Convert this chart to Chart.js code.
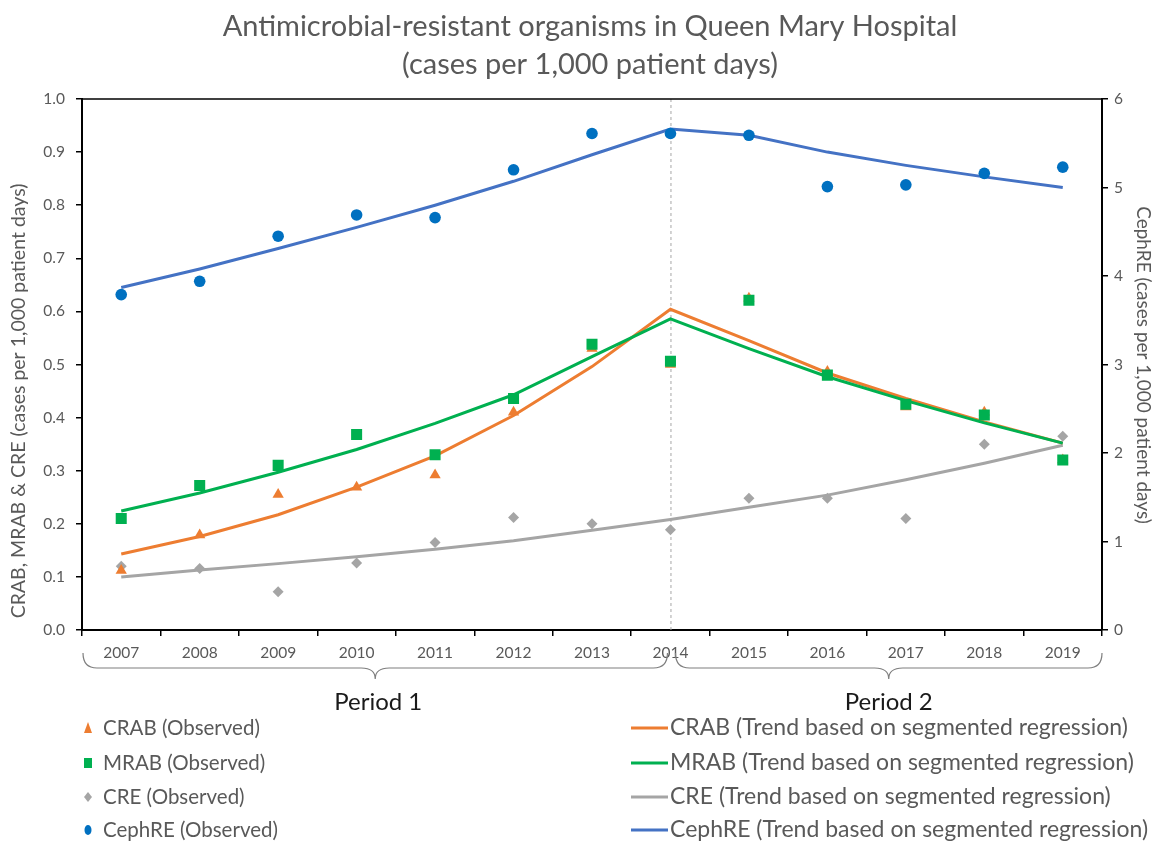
<!DOCTYPE html>
<html>
<head>
<meta charset="utf-8">
<script src="https://cdn.jsdelivr.net/npm/chart.js@4/dist/chart.umd.min.js"></script>
<style>
  html, body { margin: 0; padding: 0; background: #fff; }
  #wrap { width: 1156px; height: 841px; position: relative; }
</style>
</head>
<body>
<div id="wrap"><canvas id="c"></canvas></div>
<script>
// ---- Data ----
const years = ['2007','2008','2009','2010','2011','2012','2013','2014','2015','2016','2017','2018','2019'];
const breakYear = '2014';
const crabObs   = [0.112, 0.179, 0.255, 0.269, 0.292, 0.410, 0.530, 0.500, 0.625, 0.487, 0.420, 0.410, 0.320];
const mrabObs   = [0.210, 0.272, 0.310, 0.368, 0.330, 0.436, 0.538, 0.506, 0.621, 0.480, 0.425, 0.405, 0.320];
const creObs    = [0.120, 0.116, 0.072, 0.126, 0.165, 0.212, 0.200, 0.189, 0.248, 0.248, 0.210, 0.350, 0.365];
const cephObs   = [3.79, 3.94, 4.45, 4.69, 4.66, 5.20, 5.61, 5.61, 5.59, 5.01, 5.03, 5.16, 5.23];
const crabTrend = [0.143, 0.176, 0.217, 0.269, 0.328, 0.404, 0.496, 0.604, 0.545, 0.484, 0.436, 0.392, 0.352];
const mrabTrend = [0.224, 0.258, 0.297, 0.340, 0.389, 0.443, 0.515, 0.586, 0.530, 0.477, 0.432, 0.390, 0.352];
const creTrend  = [0.100, 0.113, 0.125, 0.138, 0.152, 0.168, 0.188, 0.208, 0.231, 0.254, 0.283, 0.314, 0.348];
const cephTrend = [3.87, 4.08, 4.31, 4.55, 4.80, 5.07, 5.37, 5.66, 5.59, 5.40, 5.25, 5.12, 5.00];
const periodLabels = ['Period 1', 'Period 2'];
const titleLines = ['Antimicrobial-resistant organisms in Queen Mary Hospital', '(cases per 1,000 patient days)'];
const leftTitle = 'CRAB, MRAB & CRE (cases per 1,000 patient days)';
const rightTitle = 'CephRE (cases per 1,000 patient days)';

const FONT = 'Lato, "Open Sans", sans-serif';
const GREY_TXT = '#595959';
const C_ORANGE = '#ED7D31', C_GREEN = '#00B050', C_GREY = '#A5A5A5', C_BLUE_LINE = '#4472C4', C_BLUE_DOT = '#0070C0';

function obs(label, data, color, style, radius, axis) {
  return { label, data, yAxisID: axis, showLine: false, pointStyle: style, pointRadius: radius,
    pointHoverRadius: radius, backgroundColor: color, borderColor: color, pointBorderWidth: 0 };
}
function trend(label, data, color, axis) {
  return { label, data, yAxisID: axis, borderColor: color, backgroundColor: color, borderWidth: 3,
    pointRadius: 0, tension: 0, fill: false };
}
// first dataset is drawn on top
const datasets = [
  obs('MRAB (Observed)', mrabObs, C_GREEN, 'rect', 7.8, 'y'),
  obs('CRAB (Observed)', crabObs, C_ORANGE, 'triangle', 6.5, 'y'),
  obs('CRE (Observed)', creObs, C_GREY, 'rectRot', 5.5, 'y'),
  obs('CephRE (Observed)', cephObs, C_BLUE_DOT, 'circle', 5.8, 'y2'),
  trend('MRAB (Trend based on segmented regression)', mrabTrend, C_GREEN, 'y'),
  trend('CRAB (Trend based on segmented regression)', crabTrend, C_ORANGE, 'y'),
  trend('CRE (Trend based on segmented regression)', creTrend, C_GREY, 'y'),
  trend('CephRE (Trend based on segmented regression)', cephTrend, C_BLUE_LINE, 'y2')
];
const legendOrder = [
  ['CRAB (Observed)', 'CRAB (Trend based on segmented regression)'],
  ['MRAB (Observed)', 'MRAB (Trend based on segmented regression)'],
  ['CRE (Observed)', 'CRE (Trend based on segmented regression)'],
  ['CephRE (Observed)', 'CephRE (Trend based on segmented regression)']
];

function drawMarker(ctx, style, x, y, color) {
  ctx.save();
  ctx.fillStyle = color;
  ctx.beginPath();
  if (style === 'triangle') {
    ctx.moveTo(x, y - 6); ctx.lineTo(x + 4, y + 5); ctx.lineTo(x - 4, y + 5); ctx.closePath();
  } else if (style === 'rect') {
    ctx.rect(x - 4, y - 5, 8, 10);
  } else if (style === 'rectRot') {
    ctx.moveTo(x, y - 5); ctx.lineTo(x + 4, y); ctx.lineTo(x, y + 5); ctx.lineTo(x - 4, y); ctx.closePath();
  } else {
    ctx.ellipse(x, y, 3.5, 5, 0, 0, Math.PI * 2);
  }
  ctx.fill();
  ctx.restore();
}

function brace(ctx, x0, x1, yTop, yMid, yTip) {
  const xc = (x0 + x1) / 2, r = 14;
  ctx.beginPath();
  ctx.moveTo(x0, yTop);
  ctx.quadraticCurveTo(x0, yMid, x0 + r, yMid);
  ctx.lineTo(xc - r, yMid);
  ctx.quadraticCurveTo(xc, yMid, xc, yTip);
  ctx.quadraticCurveTo(xc, yMid, xc + r, yMid);
  ctx.lineTo(x1 - r, yMid);
  ctx.quadraticCurveTo(x1, yMid, x1, yTop);
  ctx.stroke();
}

const decor = {
  id: 'decor',
  beforeDatasetsDraw(chart) {
    const { ctx, chartArea: a, scales: { x } } = chart;
    const bx = x.getPixelForValue(years.indexOf(breakYear));
    ctx.save();
    ctx.strokeStyle = '#A6A6A6';
    ctx.lineWidth = 1;
    ctx.setLineDash([3, 3]);
    ctx.beginPath(); ctx.moveTo(bx + 0.5, a.top); ctx.lineTo(bx + 0.5, a.bottom); ctx.stroke();
    ctx.restore();
  },
  afterDraw(chart) {
    const { ctx, chartArea: a, scales: { x } } = chart;
    ctx.save();
    // top border
    ctx.strokeStyle = '#000'; ctx.lineWidth = 1.5; ctx.setLineDash([]);
    ctx.beginPath(); ctx.moveTo(a.left, a.top); ctx.lineTo(a.right, a.top); ctx.stroke();
    // title
    ctx.fillStyle = GREY_TXT; ctx.textAlign = 'center'; ctx.textBaseline = 'middle';
    ctx.font = '29px ' + FONT;
    const cx = (a.left + a.right) / 2;
    ctx.fillText(titleLines[0], cx - 2, 27);
    ctx.fillText(titleLines[1], cx - 2, 65);
    // axis titles
    ctx.font = '19.5px ' + FONT;
    ctx.save(); ctx.translate(19, 401); ctx.rotate(-Math.PI / 2); ctx.fillText(leftTitle, 0, 0); ctx.restore();
    ctx.font = '19px ' + FONT;
    ctx.save(); ctx.translate(1143, 365); ctx.rotate(Math.PI / 2); ctx.fillText(rightTitle, 0, 0); ctx.restore();
    // braces
    const bx = x.getPixelForValue(years.indexOf(breakYear));
    ctx.strokeStyle = '#7F7F7F'; ctx.lineWidth = 1.2;
    brace(ctx, a.left + 1, bx - 3, 653, 668, 679);
    brace(ctx, bx + 5, a.right, 653, 668, 679);
    ctx.fillStyle = '#1a1a1a'; ctx.font = '24px ' + FONT;
    ctx.fillText(periodLabels[0], (a.left + 1 + bx - 3) / 2 + 3, 702);
    ctx.fillText(periodLabels[1], (bx + 5 + a.right) / 2, 702);
    // legend
    const rowsY = [728, 763, 797, 830];
    ctx.textAlign = 'left';
    legendOrder.forEach((pair, i) => {
      const y = rowsY[i];
      const o = chart.data.datasets.find(d => d.label === pair[0]);
      const t = chart.data.datasets.find(d => d.label === pair[1]);
      drawMarker(ctx, o.pointStyle, 88, y, o.backgroundColor);
      ctx.fillStyle = GREY_TXT;
      ctx.font = '20.5px ' + FONT;
      ctx.fillText(o.label, 103, y);
      ctx.strokeStyle = t.borderColor; ctx.lineWidth = 3;
      ctx.beginPath(); ctx.moveTo(631, y); ctx.lineTo(668, y); ctx.stroke();
      ctx.fillStyle = GREY_TXT;
      ctx.font = '23px ' + FONT;
      ctx.fillText(t.label, 670, y);
    });
    ctx.restore();
  }
};

new Chart(document.getElementById('c'), {
  type: 'line',
  data: { labels: years, datasets },
  plugins: [decor],
  options: {
    responsive: true,
    maintainAspectRatio: false,
    animation: false,
    layout: { padding: { top: 99, left: 0, right: 0, bottom: 0 } },
    plugins: { legend: { display: false }, title: { display: false }, tooltip: { enabled: false } },
    scales: {
      x: {
        type: 'category', offset: true,
        grid: { display: true, drawOnChartArea: false, drawTicks: true, tickLength: 6, color: '#000', lineWidth: 1.5, offset: true },
        border: { display: true, color: '#000', width: 2 },
        ticks: { color: GREY_TXT, font: { family: FONT, size: 15.5 }, padding: 8, maxRotation: 0, autoSkip: false },
        afterFit(s) { s.height = 211; }
      },
      y: {
        position: 'left', min: 0, max: 1,
        grid: { display: true, drawOnChartArea: false, drawTicks: true, tickLength: 6, color: '#000', lineWidth: 1.5 },
        border: { display: true, color: '#000', width: 2 },
        ticks: { stepSize: 0.1, color: GREY_TXT, font: { family: FONT, size: 15.5 }, padding: 11,
          callback: v => Number(v).toFixed(1) },
        afterFit(s) { s.width = 82; }
      },
      y2: {
        position: 'right', min: 0, max: 6,
        grid: { display: true, drawOnChartArea: false, drawTicks: true, tickLength: 6, color: '#000', lineWidth: 1.5 },
        border: { display: true, color: '#000', width: 2 },
        ticks: { stepSize: 1, color: GREY_TXT, font: { family: FONT, size: 15.5 }, padding: 6 },
        afterFit(s) { s.width = 54; }
      }
    }
  }
});
</script>
</body>
</html>
